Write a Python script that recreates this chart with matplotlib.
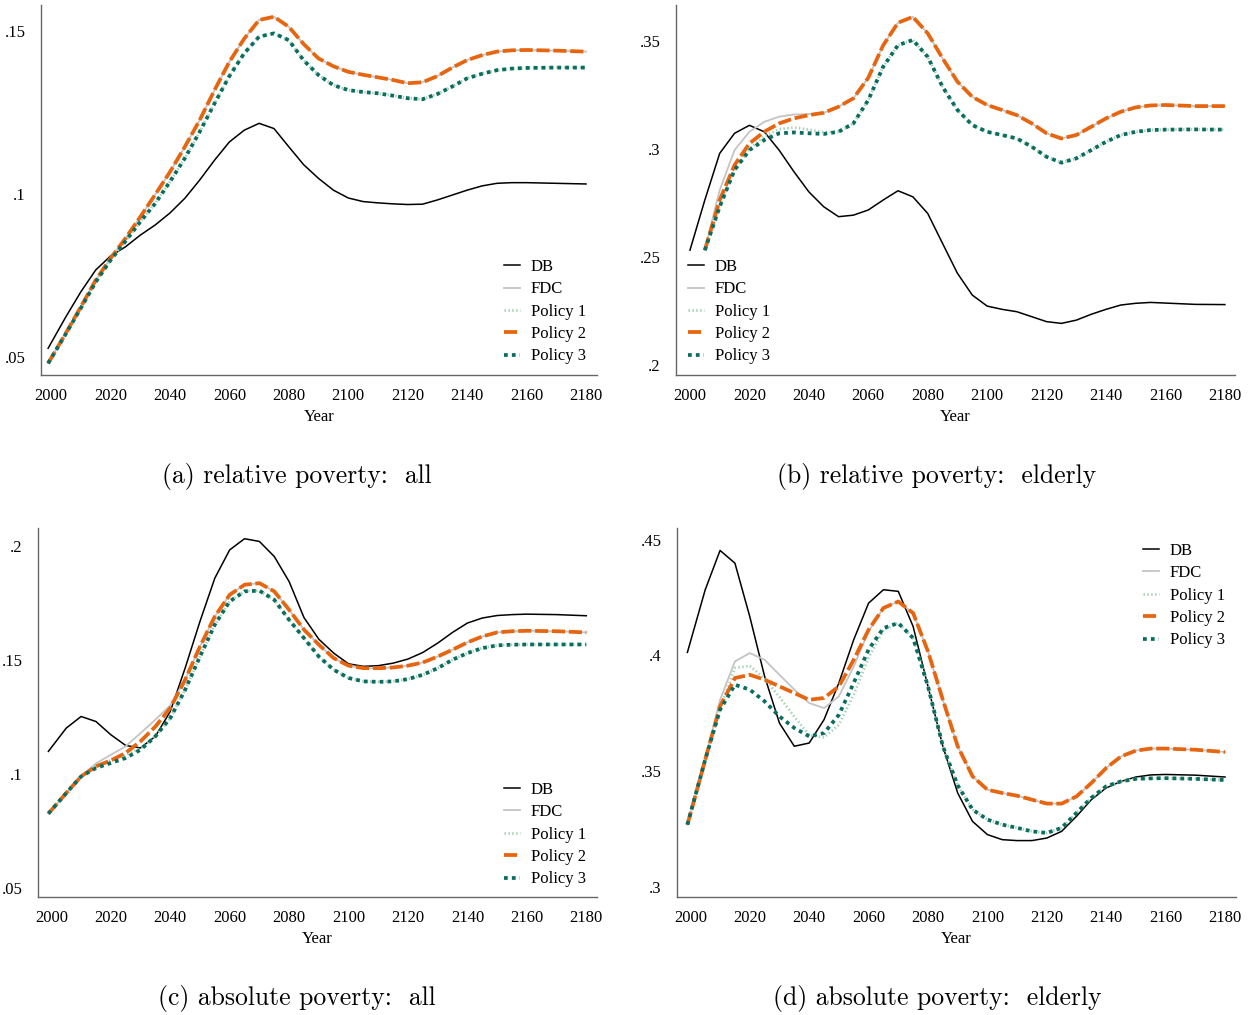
import matplotlib
matplotlib.use("Agg")
import matplotlib.pyplot as plt

plt.rcParams['font.family'] = ['Liberation Serif', 'DejaVu Serif']
plt.rcParams['font.size'] = 12

years = [1999, 2005, 2010, 2015, 2020, 2025, 2030, 2035, 2040, 2045, 2050, 2055, 2060,
         2065, 2070, 2075, 2080, 2085, 2090, 2095, 2100, 2105, 2110, 2115, 2120, 2125,
         2130, 2135, 2140, 2145, 2150, 2155, 2160, 2170, 2180]

# ---------------- (a) relative poverty: all ----------------
db_a = [.0527, .0624, .0700, .0767, .0810, .0838, .0874, .0905, .0942, .0987, .1043, .1104,
        .1160, .1196, .1217, .1201, .1145, .1090, .1048, .1012, .0988, .0977, .0973, .0970,
        .0968, .0969, .0982, .0997, .1012, .1025, .1033, .1035, .1035, .1033, .1031]
p2_a = [.0481, .0574, .0654, .0736, .0803, .0864, .0930, .0998, .1068, .1145, .1227, .1319,
        .1406, .1477, .1534, .1544, .1513, .1460, .1416, .1392, .1375, .1366, .1358, .1350,
        .1340, .1343, .1362, .1388, .1411, .1426, .1437, .1441, .1442, .1440, .1437]
p3_a = [.0481, .0572, .0650, .0730, .0797, .0855, .0915, .0971, .1038, .1110, .1191, .1278,
        .1362, .1432, .1483, .1493, .1472, .1410, .1365, .1334, .1319, .1313, .1309, .1302,
        .1294, .1291, .1307, .1330, .1355, .1369, .1380, .1385, .1387, .1388, .1388]
fdc_a = p2_a   # FDC lies under Policy 2 here
p1_a = p3_a    # Policy 1 lies under Policy 3 here

# ---------------- (b) relative poverty: elderly ----------------
years_b_db = [2000, 2005, 2010, 2015, 2020, 2025, 2030, 2035, 2040, 2045, 2050, 2055,
              2060, 2065, 2070, 2075, 2080, 2085, 2090, 2095, 2100, 2105, 2110, 2115,
              2120, 2125, 2130, 2135, 2140, 2145, 2150, 2155, 2160, 2170, 2180]
db_b = [.2532, .2764, .2980, .3073, .3110, .3080, .2995, .2895, .2802, .2733, .2687, .2694,
        .2718, .2764, .2807, .2779, .2702, .2563, .2425, .2324, .2273, .2258, .2247, .2224,
        .2201, .2193, .2208, .2235, .2258, .2278, .2286, .2290, .2287, .2281, .2280]
years_b = years_b_db[1:]
fdc_b = [.2532, .2810, .2995, .3080, .3126, .3150, .3160, .3162, .3168, .3196, .3235,
         .3330, .3480, .3585, .3612, .3536, .3420, .3312, .3242, .3204, .3181, .3157, .3119,
         .3073, .3049, .3065, .3103, .3142, .3173, .3193, .3202, .3204, .3199, .3199]
p1_b = [.2532, .2733, .2903, .3000, .3060, .3092, .3100, .3090, .3078, .3080, .3119,
        .3227, .3381, .3481, .3505, .3427, .3288, .3181, .3111, .3080, .3065, .3049, .3011,
        .2964, .2937, .2957, .2995, .3034, .3065, .3080, .3088, .3090, .3091, .3090]
p2_b = [.2532, .2764, .2926, .3026, .3080, .3119, .3142, .3157, .3168, .3196, .3235,
        .3330, .3480, .3585, .3612, .3536, .3420, .3312, .3242, .3204, .3181, .3157, .3119,
        .3073, .3049, .3065, .3103, .3142, .3173, .3193, .3202, .3204, .3199, .3199]
p3_b = [.2532, .2733, .2903, .2995, .3042, .3073, .3077, .3073, .3070, .3080, .3119,
        .3227, .3381, .3481, .3505, .3427, .3288, .3181, .3111, .3080, .3065, .3049, .3011,
        .2964, .2937, .2957, .2995, .3034, .3065, .3080, .3088, .3090, .3091, .3090]

# ---------------- (c) absolute poverty: all ----------------
db_c = [.1098, .1200, .1251, .1229, .1171, .1124, .1113, .1164, .1273, .1463, .1668, .1858,
        .1982, .2031, .2019, .1953, .1843, .1685, .1590, .1529, .1482, .1471, .1474, .1485,
        .1503, .1532, .1573, .1620, .1661, .1683, .1694, .1698, .1700, .1698, .1693]
fdc_c = [.0825, .0915, .0988, .1045, .1083, .1120, .1178, .1237, .1300, .1412, .1558, .1690,
         .1785, .1829, .1836, .1800, .1719, .1632, .1566, .1507, .1474, .1463, .1463, .1466,
         .1474, .1488, .1514, .1544, .1576, .1602, .1620, .1625, .1627, .1625, .1620]
p1_c = [.0825, .0915, .0988, .1035, .1058, .1082, .1112, .1164, .1244, .1368, .1514, .1654,
        .1756, .1800, .1803, .1763, .1675, .1595, .1514, .1456, .1420, .1405, .1403, .1405,
        .1415, .1434, .1463, .1500, .1529, .1551, .1563, .1566, .1567, .1567, .1567]
p2_c = [.0825, .0915, .0988, .1032, .1058, .1091, .1142, .1207, .1288, .1412, .1558, .1690,
        .1785, .1829, .1836, .1800, .1719, .1632, .1566, .1507, .1474, .1463, .1463, .1466,
        .1474, .1488, .1514, .1544, .1576, .1602, .1620, .1625, .1627, .1625, .1620]
p3_c = [.0825, .0915, .0988, .1025, .1047, .1069, .1105, .1164, .1244, .1368, .1514, .1654,
        .1756, .1800, .1803, .1763, .1675, .1595, .1514, .1456, .1420, .1405, .1403, .1405,
        .1415, .1434, .1463, .1500, .1529, .1551, .1563, .1566, .1567, .1567, .1567]

# ---------------- (d) absolute poverty: elderly ----------------
db_d = [.4013, .4284, .4454, .4399, .4168, .3909, .3707, .3607, .3621, .3722, .3881, .4068,
        .4226, .4284, .4277, .4125, .3866, .3607, .3405, .3282, .3225, .3203, .3199, .3199,
        .3210, .3239, .3304, .3376, .3427, .3455, .3474, .3483, .3485, .3482, .3474]
fdc_d = [.3268, .3549, .3808, .3974, .4010, .3981, .3916, .3852, .3794, .3772, .3823, .3952,
         .4104, .4205, .4233, .4183, .4017, .3808, .3607, .3477, .3419, .3405, .3393, .3376,
         .3359, .3359, .3390, .3448, .3513, .3563, .3588, .3597, .3597, .3592, .3582]
p1_d = [.3268, .3549, .3770, .3945, .3955, .3900, .3820, .3735, .3655, .3645, .3700, .3830,
        .3990, .4110, .4140, .4075, .3866, .3607, .3438, .3333, .3290, .3268, .3254, .3239,
        .3232, .3254, .3319, .3384, .3434, .3455, .3466, .3468, .3469, .3466, .3461]
p2_d = [.3268, .3549, .3780, .3902, .3916, .3895, .3866, .3837, .3808, .3816, .3866, .3981,
        .4111, .4205, .4233, .4183, .4017, .3808, .3607, .3477, .3419, .3405, .3393, .3376,
        .3359, .3359, .3390, .3448, .3513, .3563, .3588, .3597, .3597, .3592, .3582]
p3_d = [.3268, .3549, .3765, .3873, .3852, .3801, .3736, .3686, .3650, .3664, .3743, .3881,
        .4025, .4118, .4140, .4075, .3866, .3607, .3438, .3333, .3290, .3268, .3254, .3239,
        .3232, .3254, .3319, .3384, .3434, .3455, .3466, .3468, .3469, .3466, .3461]

xticks = list(range(2000, 2181, 20))

W, H = 1250, 1015
fig = plt.figure(figsize=(W / 100, H / 100), dpi=100)


def px_axes(l, t, r, b):
    return fig.add_axes([l / W, (H - b) / H, (r - l) / W, (b - t) / H])


def draw(ax, yrs_db, db, yrs, fdc, p1, p2, p3, xlim, ylim, yticks, yticklabels,
         leg_xy):
    ax.plot(yrs_db, db, color="black", lw=1.1, label="DB")
    ax.plot(yrs, fdc, color="#c4c4c4", lw=1.3, label="FDC")
    ax.plot(yrs, p1, color="#a3d3b3", lw=2.0, linestyle=(0, (0.5, 0.9)), label="Policy 1")
    ax.plot(yrs, p2, color="#e8650f", lw=2.7, linestyle=(0, (3.5, 1.0)), label="Policy 2")
    ax.plot(yrs, p3, color="#0a6d60", lw=2.7, linestyle=(0, (1, 1.1)), label="Policy 3")
    ax.set_xlim(*xlim)
    ax.set_ylim(*ylim)
    ax.set_xticks(xticks)
    ax.set_yticks(yticks)
    ax.set_yticklabels(yticklabels)
    ax.tick_params(length=0, labelsize=12)
    ax.tick_params(axis="x", pad=9)
    ax.tick_params(axis="y", pad=11)
    ax.set_xlabel("Year", fontsize=12, labelpad=4)
    for s in ["top", "right"]:
        ax.spines[s].set_visible(False)
    for s in ["left", "bottom"]:
        ax.spines[s].set_color("#666666")
        ax.spines[s].set_linewidth(1.0)
    ax.legend(loc="upper left", bbox_to_anchor=(leg_xy[0] / W, (H - leg_xy[1]) / H),
              bbox_transform=fig.transFigure, frameon=False, borderpad=0,
              borderaxespad=0, handlelength=0.95, handletextpad=0.65, labelspacing=0.38,
              fontsize=12)


ax_a = px_axes(41, 5, 597, 375)
draw(ax_a, years, db_a, years, fdc_a, p1_a, p2_a, p3_a, (1996.6, 2183.7),
     (0.0445, 0.158), [.05, .1, .15], [".05", ".1", ".15"], (504, 259))

ax_b = px_axes(676, 5, 1235, 375)
draw(ax_b, years_b_db, db_b, years_b, fdc_b, p1_b, p2_b, p3_b, (1995.3, 2183.4),
     (0.1954, 0.3667), [.2, .25, .3, .35], [".2", ".25", ".3", ".35"], (688, 259))

ax_c = px_axes(38, 528, 597, 897)
draw(ax_c, years, db_c, years, fdc_c, p1_c, p2_c, p3_c, (1995.5, 2183.6),
     (0.0459, 0.2078), [.05, .1, .15, .2], [".05", ".1", ".15", ".2"], (504, 782))

ax_d = px_axes(677, 528, 1236, 897)
draw(ax_d, years, db_d, years, fdc_d, p1_d, p2_d, p3_d, (1995.5, 2183.7),
     (0.2955, 0.4551), [.3, .35, .4, .45], [".3", ".35", ".4", ".45"], (1143, 543))

captions = [("(a) relative poverty:  all", 297, 476),
            ("(b) relative poverty:  elderly", 937, 476),
            ("(c) absolute poverty:  all", 297, 998),
            ("(d) absolute poverty:  elderly", 937, 998)]
for txt, cx, cy in captions:
    fig.text(cx / W, (H - cy) / H, txt, ha="center", va="center",
             family="cmr10", fontsize=18.5)

fig.savefig("out.png", dpi=100)
